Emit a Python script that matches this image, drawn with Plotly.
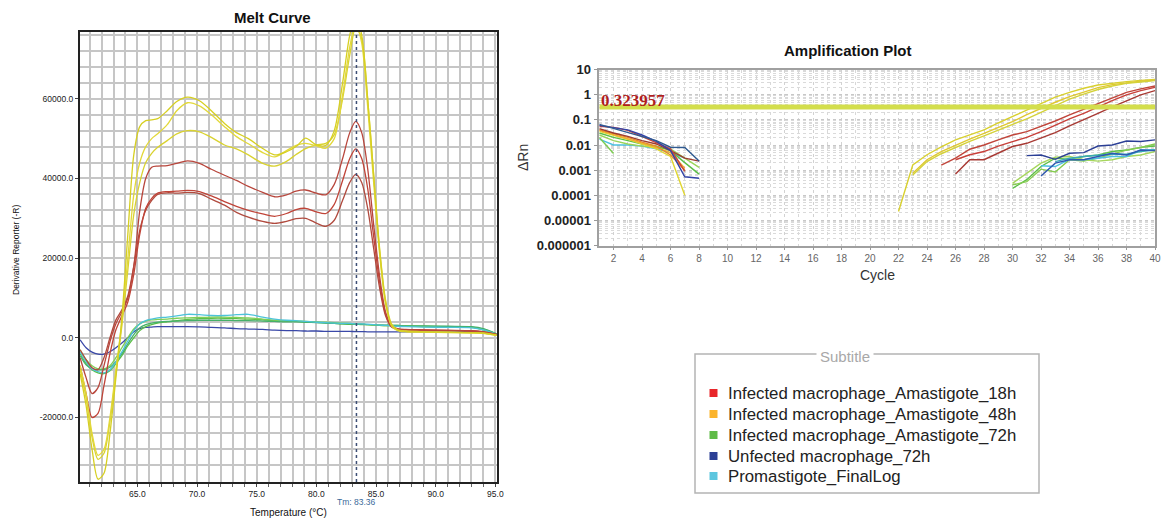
import plotly.graph_objects as go

W, H = 1163, 518

# ---------------- Melt curve data ----------------
melt_temp = [60.2, 60.7, 61.2, 61.7, 62.2, 62.7, 63.2, 63.7, 64.2, 64.7, 65.2, 65.7, 66.2, 66.7,
             67.5, 68.3, 69.2, 70.2, 71.2, 72.3, 73.3, 74.3, 75.5, 76.5, 77.5, 78.3, 79.1, 80.0,
             80.8, 81.5, 82.2, 82.8, 83.3, 83.8, 84.3, 84.8, 85.3, 85.8, 86.3, 86.8, 87.5, 89.0,
             91.0, 93.0, 94.0, 95.1]

melt_48h_a = [-9000, -17000, -28000, -35500, -34000, -24000, -10000, 5000, 26000, 46000, 53000, 54500, 54700, 55000,
              57000, 59300, 60400, 59500, 57000, 53800, 51500, 50000, 47500, 45900, 46700, 48000, 50100, 48400,
              48300, 52000, 64000, 76000, 81000, 76000, 60000, 41000, 22000, 9000, 3200, 2000, 1600, 1500,
              1400, 1300, 1200, 700]
melt_48h_b = [-7000, -14000, -24000, -29500, -28000, -20000, -8000, 4000, 20000, 36000, 44000, 48000, 50000, 51200,
              53500, 57000, 59000, 58200, 56000, 53000, 50500, 48700, 46500, 45400, 47000, 48300, 48800, 48200,
              47600, 50000, 61000, 73000, 79000, 74000, 58000, 39000, 21000, 8500, 3000, 1800, 1500, 1400,
              1300, 1200, 1100, 600]
melt_48h_c = [-8000, -15000, -25000, -30500, -29000, -21000, -9000, 3000, 17000, 31000, 39000, 44000, 46300, 47800,
              49500, 51200, 52000, 51700, 50300, 48400, 47400, 45900, 43800, 43100, 44300, 46000, 47500, 48400,
              48800, 51000, 60000, 71000, 78000, 75000, 60000, 41000, 22500, 9500, 3500, 2000, 1700, 1500,
              1400, 1300, 1100, 600]
melt_18h_a = [-5000, -10000, -14000, -12500, -7000, -1000, 3500, 6500, 10000, 18000, 32000, 40000, 42800, 43100,
              43200, 43800, 44400, 43800, 42300, 40800, 39500, 38000, 36500, 35400, 35900, 36800, 37100, 36300,
              35900, 38500, 45000, 51500, 54300, 51500, 42500, 28500, 15500, 6500, 3000, 2300, 2100, 2000,
              1900, 1800, 1500, 800]
melt_18h_b = [-7000, -14000, -20000, -19000, -12000, -4000, 2000, 5500, 9000, 16000, 26000, 32500, 35000, 36300,
              36700, 36800, 37000, 36700, 35600, 34200, 33000, 32000, 31100, 30500, 31200, 32200, 32500, 31600,
              31200, 33500, 39500, 45000, 47400, 45000, 37500, 25500, 14000, 6000, 2800, 2200, 2000, 1900,
              1800, 1700, 1400, 800]
melt_18h_c = [-3000, -5500, -7500, -8000, -5000, 0, 4500, 7000, 10500, 18000, 27000, 32000, 34500, 36000,
              36400, 36300, 36500, 36200, 34800, 33300, 31500, 30300, 29200, 28700, 29200, 29900, 30000, 28800,
              28000, 29500, 34500, 39000, 41000, 39000, 32500, 22500, 12500, 5500, 2700, 2100, 2000, 1900,
              1800, 1700, 1500, 900]
melt_unf = [-500, -2500, -3600, -4100, -4100, -3500, -2500, -1300, 0, 1500, 2300, 2600, 2700, 2800,
            2800, 2800, 2800, 2750, 2600, 2500, 2300, 2200, 2100, 1900, 1800, 1800, 1700, 1700,
            1600, 1600, 1600, 1600, 1550, 1550, 1500, 1500, 1500, 1500, 1500, 1500, 1500, 1500,
            1500, 1500, 1400, 700]
melt_72h_a = [-4000, -6500, -8000, -8800, -9000, -8300, -6500, -4500, -2000, 0, 1800, 2800, 3300, 3700,
              4000, 4300, 4600, 4800, 4900, 4900, 4800, 4700, 4500, 4300, 4200, 4100, 4000, 3900,
              3700, 3600, 3500, 3400, 3400, 3300, 3300, 3200, 3200, 3100, 3100, 3100, 3000, 2900,
              2800, 2700, 2000, 900]
melt_72h_b = [-3000, -5500, -7000, -7800, -7800, -7000, -5000, -2500, 0, 2200, 3500, 4200, 4500, 4600,
              4700, 4900, 5000, 5100, 5200, 5200, 5100, 5000, 4700, 4400, 4300, 4200, 4100, 4000,
              3900, 3800, 3700, 3600, 3500, 3400, 3300, 3200, 3100, 3000, 3000, 2900, 2900, 2800,
              2700, 2600, 2200, 1000]
melt_72h_c = [-4500, -6800, -7800, -8000, -8000, -7400, -6000, -4000, -1500, 800, 2500, 3300, 3700, 3900,
              4100, 4200, 4300, 4400, 4400, 4400, 4300, 4300, 4200, 4100, 4000, 4000, 3900, 3800,
              3700, 3600, 3500, 3500, 3400, 3400, 3300, 3300, 3200, 3200, 3100, 3100, 3000, 3000,
              2900, 2800, 2300, 1000]
melt_pro = [-3500, -6000, -7800, -8500, -8800, -8000, -6000, -3500, -800, 1800, 3500, 4300, 4700, 5000,
            5200, 5500, 5900, 5800, 5600, 5600, 5800, 5900, 5200, 4700, 4400, 4300, 4100, 3900,
            3800, 3700, 3600, 3600, 3500, 3500, 3400, 3300, 3200, 3100, 3000, 2900, 2800, 2700,
            2600, 2500, 2000, 900]

melt_tm = 83.36
melt_x_ticks = [65, 70, 75, 80, 85, 90, 95]
melt_x_labels = ["65.0", "70.0", "75.0", "80.0", "85.0", "90.0", "95.0"]
melt_y_ticks = [-20000, 0, 20000, 40000, 60000]
melt_y_labels = ["-20000.0", "0.0", "20000.0", "40000.0", "60000.0"]

# ---------------- Amplification data ----------------
amp_unf_early_a = [0.066, 0.045, 0.032, 0.022, 0.015, 0.0082, 0.0080, 0.0023]
amp_unf_early_b = [0.060, 0.050, 0.040, 0.025, 0.014, 0.0060, 0.00055, 0.00048]
amp_18h_early_a = [0.055, 0.050, 0.038, 0.022, 0.013, 0.0070, 0.0009]
amp_18h_early_b = [0.045, 0.030, 0.022, 0.015, 0.011, 0.0060, 0.0030, 0.0023]
amp_48h_early_a = [0.040, 0.028, 0.020, 0.013, 0.009, 0.0040, 0.0010]
amp_48h_early_b = [0.035, 0.025, 0.017, 0.011, 0.007, 0.0035, 0.0001]
amp_48h_early_c = [0.038, 0.026, 0.018, 0.012, 0.008, 0.0050, 0.0012]
amp_72h_early_a = [0.030, 0.020, 0.015, 0.011, 0.009, 0.0060, 0.0020, 0.0007]
amp_72h_early_b = [0.020, 0.0046]
amp_72h_early_c = [0.025, 0.015, 0.011, 0.009, 0.008, 0.0070, 0.0030, 0.0013]
amp_pro_early = [0.017, 0.010, 0.0100, 0.0090, 0.0070, 0.0050, 0.0030]

amp_48h_late_a = [2.3e-5, 0.0016, 0.0041, 0.0085, 0.016, 0.026, 0.040, 0.075, 0.134, 0.25, 0.46, 0.80,
                  1.24, 1.8, 2.43, 2.9, 3.3, 3.7, 4.07]            # cycles 22-40
amp_48h_late_b = [0.00076, 0.0026, 0.0055, 0.010, 0.017, 0.029, 0.050, 0.085, 0.16, 0.29, 0.50, 0.84,
                  1.3, 1.9, 2.5, 3.0, 3.4, 3.8]                    # cycles 23-40
amp_48h_late_c = [0.00065, 0.0022, 0.0045, 0.0081, 0.014, 0.023, 0.038, 0.063, 0.11, 0.20, 0.37, 0.66,
                  1.05, 1.6, 2.2, 2.8, 3.2, 3.6]                   # cycles 23-40
amp_18h_late_a = [0.0016, 0.0030, 0.0068, 0.010, 0.016, 0.025, 0.034, 0.054, 0.090, 0.156, 0.26, 0.46,
                  0.76, 1.24, 1.7, 2.2]                            # cycles 25-40
amp_18h_late_b = [0.0026, 0.0041, 0.0055, 0.0091, 0.0137, 0.020, 0.034, 0.063, 0.11, 0.18, 0.33, 0.58,
                  0.98, 1.45, 1.96]                                # cycles 26-40
amp_18h_late_c = [0.0007, 0.0026, 0.0026, 0.0047, 0.0087, 0.0117, 0.0187, 0.031, 0.057, 0.105, 0.18,
                  0.33, 0.58, 0.98, 1.45]                          # cycles 26-40
amp_unf_late_a = [0.0038, 0.0040, 0.0027, 0.0047, 0.0050, 0.0091, 0.010, 0.0144, 0.0137, 0.016]   # 31-40
amp_unf_late_b = [0.00059, 0.0019, 0.0026, 0.0026, 0.0035, 0.0047, 0.0040, 0.0063, 0.0060]        # 32-40
amp_72h_late_a = [0.00019, 0.00042, 0.0014, 0.0030, 0.0027, 0.0035, 0.0040, 0.0055, 0.0063, 0.0081, 0.0091]  # 30-40
amp_72h_late_b = [0.00026, 0.00035, 0.0011, 0.00085, 0.0026, 0.0023, 0.0030, 0.0042, 0.0063, 0.0080, 0.011]  # 30-40
amp_72h_late_c = [0.00030, 0.00075, 0.0019, 0.0033, 0.0035, 0.0026, 0.0023, 0.0026, 0.0035, 0.0040, 0.0055]  # 30-40
amp_pro_late_a = [0.0015, 0.0014, 0.0027, 0.0026, 0.0030, 0.0035, 0.0035, 0.0063, 0.0065]         # 32-40
amp_pro_late_b = [0.0022, 0.0030, 0.0035, 0.0040, 0.0044, 0.0043, 0.0055, 0.0063]                 # 33-40

amp_threshold = 0.323957
amp_x_ticks = list(range(2, 41, 2))
amp_y_ticks = [10, 1, 0.1, 0.01, 0.001, 0.0001, 0.00001, 0.000001]
amp_y_labels = ["10", "1", "0.1", "0.01", "0.001", "0.0001", "0.00001", "0.000001"]

legend_names = ["Infected macrophage_Amastigote_18h", "Infected macrophage_Amastigote_48h",
                "Infected macrophage_Amastigote_72h", "Unfected macrophage_72h", "Promastigote_FinalLog"]
legend_colors = ["#e8262a", "#fbb42c", "#5fbb47", "#2b3f95", "#5dc6df"]

# ---------------- helpers ----------------
def xp(px):
    return px / W

def yp(py):
    return 1 - py / H

FONT = "Liberation Sans, Arial, sans-serif"

fig = go.Figure()

# melt curve traces
melt_lines = [
    (melt_unf, "#3a48a8"), (melt_72h_a, "#5cbf48"), (melt_72h_b, "#7fcf55"), (melt_72h_c, "#45b06a"),
    (melt_pro, "#4cc3d9"),
    (melt_18h_c, "#b04a3e"), (melt_18h_b, "#c04438"), (melt_18h_a, "#b8463c"),
    (melt_48h_c, "#d9d230"), (melt_48h_b, "#e2d83a"), (melt_48h_a, "#d6cf22"),
]
for vals, col in melt_lines:
    fig.add_trace(go.Scatter(x=melt_temp, y=vals, mode="lines", xaxis="x", yaxis="y",
                             line=dict(color=col, width=1.3, shape="spline", smoothing=0.8),
                             showlegend=False, hoverinfo="skip"))

# amplification traces
amp_cycle = list(range(1, 41))

def cyc(start, vals):
    return amp_cycle[start - 1:start - 1 + len(vals)]

amp_lines = [
    (1, amp_pro_early, "#4cc0e0"), (1, amp_72h_early_b, "#7ccc50"), (1, amp_72h_early_c, "#9bd45a"),
    (1, amp_72h_early_a, "#5cbf48"), (1, amp_48h_early_b, "#e0d630"), (1, amp_48h_early_c, "#f0b030"),
    (1, amp_48h_early_a, "#e88a2a"), (1, amp_18h_early_b, "#9c3c30"), (1, amp_18h_early_a, "#c8463a"),
    (1, amp_unf_early_b, "#3244a8"), (1, amp_unf_early_a, "#2f5a90"),
    (22, amp_48h_late_a, "#d8d030"), (23, amp_48h_late_b, "#e0c830"), (23, amp_48h_late_c, "#d4d23a"),
    (25, amp_18h_late_a, "#c0453a"), (26, amp_18h_late_b, "#c8403a"), (26, amp_18h_late_c, "#a83a34"),
    (30, amp_72h_late_a, "#5cbf48"), (30, amp_72h_late_b, "#86cc50"), (30, amp_72h_late_c, "#a6d65c"),
    (32, amp_pro_late_a, "#4cc0e0"), (33, amp_pro_late_b, "#38a8b8"),
    (32, amp_unf_late_b, "#2f58b0"), (31, amp_unf_late_a, "#2b3f95"),
]
for start, vals, col in amp_lines:
    fig.add_trace(go.Scatter(x=cyc(start, vals), y=vals, mode="lines", xaxis="x2", yaxis="y2",
                             line=dict(color=col, width=1.4), showlegend=False, hoverinfo="skip"))

# threshold
fig.add_trace(go.Scatter(x=[amp_cycle[0], amp_cycle[-1]], y=[amp_threshold, amp_threshold], mode="lines",
                         xaxis="x2", yaxis="y2", line=dict(color="#d3de4c", width=5),
                         showlegend=False, hoverinfo="skip"))

grid_col = "#c6c6c6"
layout = dict(
    width=W, height=H, autosize=False,
    margin=dict(l=0, r=0, t=0, b=0, pad=0),
    paper_bgcolor="white", plot_bgcolor="white",
    font=dict(family=FONT, color="#222"),
    showlegend=False,
    xaxis=dict(domain=[xp(80), xp(497)], range=[60.19, 95.14], anchor="y", automargin=False,
               tickmode="array", tickvals=melt_x_ticks, ticktext=melt_x_labels,
               tickfont=dict(size=8.5, color="#222", family=FONT),
               showgrid=True, gridcolor=grid_col, gridwidth=1.5,
               minor=dict(tickmode="linear", tick0=60, dtick=1, showgrid=True, gridcolor=grid_col,
                          gridwidth=1.5, ticks="outside", ticklen=3, tickcolor="#666"),
               ticks="outside", ticklen=3, tickcolor="#444",
               showline=True, linecolor="#222", linewidth=2, mirror=True, zeroline=False),
    yaxis=dict(domain=[yp(482), yp(32)], range=[-36200, 76760], anchor="x", automargin=False,
               tickmode="array", tickvals=melt_y_ticks, ticktext=melt_y_labels,
               tickfont=dict(size=8.5, color="#222", family=FONT),
               showgrid=True, gridcolor=grid_col, gridwidth=1.5,
               minor=dict(tickmode="linear", tick0=0, dtick=4000, showgrid=True, gridcolor=grid_col,
                          gridwidth=1.5),
               ticks="outside", ticklen=3, tickcolor="#444",
               showline=True, linecolor="#222", linewidth=2, mirror=True, zeroline=False),
    xaxis2=dict(domain=[xp(599.3), xp(1155)], range=[1, 40], anchor="y2", automargin=False,
                tickmode="array", tickvals=amp_x_ticks,
                tickfont=dict(size=10, color="#666", family=FONT),
                showgrid=True, gridcolor="#d2d2d2", griddash="dot", gridwidth=1,
                minor=dict(tickmode="linear", tick0=1, dtick=1, showgrid=True, gridcolor="#d8d8d8",
                           griddash="dot", gridwidth=1),
                ticks="outside", ticklen=3, tickcolor="#999",
                showline=True, linecolor="#a0a0a0", linewidth=1.5, mirror=True, zeroline=False),
    yaxis2=dict(domain=[yp(245.7), yp(69.5)], type="log", range=[-6, 1], anchor="x2", automargin=False,
                tickmode="array", tickvals=amp_y_ticks, ticktext=amp_y_labels,
                tickfont=dict(size=13, color="#222", family=FONT, weight="bold"),
                showgrid=True, gridcolor="#c8c8c8", griddash="dot", gridwidth=1,
                minor=dict(dtick="D1", showgrid=True, gridcolor="#dadada", griddash="dot", gridwidth=1),
                ticks="outside", ticklen=4, tickcolor="#999",
                showline=True, linecolor="#a0a0a0", linewidth=1.5, mirror=True, zeroline=False),
)
fig.update_layout(**layout)

# Tm dotted line
fig.add_shape(type="line", xref="x", yref="y domain", x0=melt_tm, x1=melt_tm, y0=0, y1=1,
              line=dict(color="#3c4e74", width=1.5, dash="dot"))

ann = []

def label(text, x, y, size, color="#111", family=FONT, xanchor="center", angle=0, xref="paper", **kw):
    d = dict(text=text, x=x, y=y, xref=xref, yref="paper", xanchor=xanchor, yanchor="middle",
             showarrow=False, textangle=angle, font=dict(size=size, family=family, color=color))
    d.update(kw)
    ann.append(d)

label("<b>Melt Curve</b>", xp(272), yp(17), 15)
label("Temperature (°C)", xp(288), yp(512), 10)
label("Derivative Reporter (-R)", xp(16), yp(250), 8.5, angle=-90)
label("Tm: " + f"{melt_tm:.2f}", melt_tm, yp(502), 8.5, color="#3a6a9a", xref="x")

label("<b>Amplification Plot</b>", xp(848), yp(50), 15)
label("Cycle", xp(877), yp(275), 14, color="#333")
label("ΔRn", xp(523), yp(158), 14, color="#333", angle=-90)
label(f"<b>{amp_threshold:.6f}</b>", xp(599), yp(101), 17, color="#b01e1e",
      family="Liberation Serif, Times New Roman, serif", xanchor="left")

# legend box
fig.add_shape(type="rect", xref="paper", yref="paper", x0=xp(695), x1=xp(1039), y0=yp(493), y1=yp(354),
              line=dict(color="#b4b4b4", width=1.5), fillcolor="rgba(0,0,0,0)")
label("Subtitle", xp(845), yp(356), 15, color="#a8a8a8", bgcolor="white", borderpad=3)
row_y = [393, 414, 435, 456, 476]
for name, col, ry in zip(legend_names, legend_colors, row_y):
    fig.add_shape(type="rect", xref="paper", yref="paper", x0=xp(709.5), x1=xp(717.5),
                  y0=yp(ry + 4), y1=yp(ry - 4), line=dict(width=0), fillcolor=col)
    label(name, xp(726), yp(ry), 16.8, color="#222", xanchor="left")

fig.update_layout(annotations=ann)
fig.write_html("out.html", config={"displayModeBar": False},
               post_script="document.body.style.margin='0px';document.body.style.overflow='hidden';")
